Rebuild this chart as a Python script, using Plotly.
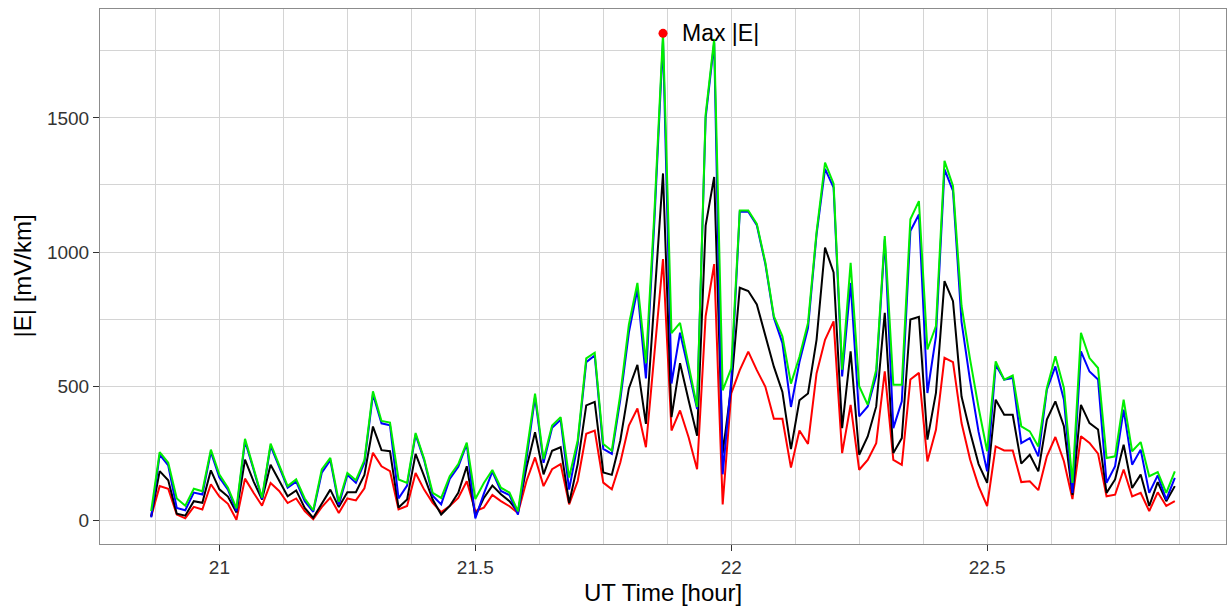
import plotly.graph_objects as go

# UT time in decimal hours, one sample per minute (20:52 - 22:52)
ut_hour = [
    20.8667, 20.8833, 20.9000, 20.9167, 20.9333, 20.9500, 20.9667, 20.9833,
    21.0000, 21.0167, 21.0333, 21.0500, 21.0667, 21.0833, 21.1000, 21.1167, 21.1333, 21.1500,
    21.1667, 21.1833, 21.2000, 21.2167, 21.2333, 21.2500, 21.2667, 21.2833, 21.3000, 21.3167,
    21.3333, 21.3500, 21.3667, 21.3833, 21.4000, 21.4167, 21.4333, 21.4500, 21.4667, 21.4833,
    21.5000, 21.5167, 21.5333, 21.5500, 21.5667, 21.5833, 21.6000, 21.6167, 21.6333, 21.6500,
    21.6667, 21.6833, 21.7000, 21.7167, 21.7333, 21.7500, 21.7667, 21.7833, 21.8000, 21.8167,
    21.8333, 21.8500, 21.8667, 21.8833, 21.9000, 21.9167, 21.9333, 21.9500, 21.9667, 21.9833,
    22.0000, 22.0167, 22.0333, 22.0500, 22.0667, 22.0833, 22.1000, 22.1167, 22.1333, 22.1500,
    22.1667, 22.1833, 22.2000, 22.2167, 22.2333, 22.2500, 22.2667, 22.2833, 22.3000, 22.3167,
    22.3333, 22.3500, 22.3667, 22.3833, 22.4000, 22.4167, 22.4333, 22.4500, 22.4667, 22.4833,
    22.5000, 22.5167, 22.5333, 22.5500, 22.5667, 22.5833, 22.6000, 22.6167, 22.6333, 22.6500,
    22.6667, 22.6833, 22.7000, 22.7167, 22.7333, 22.7500, 22.7667, 22.7833, 22.8000, 22.8167,
    22.8333, 22.8500, 22.8667,
]

# |E| in mV/km for the four estimates
e_green = [
    35, 255, 215, 82, 55, 118, 109, 264, 171, 122,
    45, 304, 195, 85, 286, 205, 128, 153, 82, 38,
    190, 233, 70, 177, 150, 225, 481, 371, 365, 153,
    140, 326, 230, 103, 84, 165, 210, 290, 80, 140,
    188, 122, 104, 34, 250, 473, 229, 354, 385, 160,
    298, 604, 625, 285, 260, 470, 730, 885, 586, 1150,
    1815, 698, 736, 580, 423, 1512, 1794, 485, 567, 1155,
    1155, 1105, 961, 761, 686, 510, 610, 736, 1074, 1333,
    1255, 562, 960, 500, 431, 562, 1060, 506, 506, 1122,
    1190, 637, 724, 1340, 1246, 800, 600, 420, 258, 593,
    525, 540, 351, 332, 276, 494, 612, 494, 140, 699, 605,
    568, 233, 239, 450, 258, 292, 165, 180, 103, 183,
]
e_blue = [
    12, 245, 205, 47, 38, 104, 97, 255, 160, 115,
    35, 295, 190, 80, 278, 198, 122, 145, 72, 32,
    178, 225, 58, 170, 140, 215, 470, 362, 355, 82,
    130, 320, 225, 92, 60, 155, 200, 285, 8, 100,
    182, 110, 95, 22, 230, 460, 215, 345, 375, 115,
    285, 590, 615, 267, 248, 450, 700, 861, 529, 1120,
    1790, 510, 700, 560, 415, 1500, 1780, 172, 520, 1150,
    1150, 1100, 955, 755, 661, 423, 590, 717, 1065, 1310,
    1240, 537, 885, 388, 425, 540, 1047, 344, 444, 1078,
    1140, 475, 686, 1308, 1228, 740, 520, 330, 183, 580,
    525, 531, 288, 307, 239, 487, 574, 450, 103, 630, 555,
    525, 140, 202, 413, 208, 264, 103, 168, 78, 159,
]
e_black = [
    15, 184, 150, 25, 18, 72, 66, 187, 116, 89,
    30, 227, 146, 78, 208, 146, 90, 112, 47, 10,
    65, 115, 50, 105, 105, 170, 350, 262, 258, 48,
    78, 248, 165, 78, 22, 54, 103, 202, 16, 84,
    130, 98, 72, 32, 197, 329, 172, 260, 273, 65,
    210, 429, 442, 179, 170, 298, 492, 580, 360, 820,
    1293, 385, 586, 448, 316, 1099, 1280, 250, 498, 867,
    855, 805, 692, 573, 479, 266, 448, 473, 673, 1017,
    924, 344, 630, 245, 313, 425, 774, 251, 307, 749,
    759, 301, 475, 892, 817, 462, 330, 210, 140, 450,
    394, 394, 212, 245, 183, 376, 444, 351, 95, 431, 363,
    339, 103, 153, 282, 121, 171, 54, 143, 72, 128,
]
e_red = [
    15, 128, 118, 22, 8, 51, 41, 135, 89, 62,
    3, 156, 103, 55, 140, 110, 65, 82, 35, 5,
    50, 85, 28, 82, 75, 120, 252, 202, 184, 41,
    54, 177, 115, 66, 31, 54, 84, 146, 35, 48,
    95, 72, 53, 28, 147, 235, 128, 191, 210, 60,
    147, 323, 335, 141, 116, 216, 354, 417, 273, 620,
    974, 335, 410, 310, 191, 761, 955, 60, 473, 560,
    629, 560, 498, 379, 379, 197, 335, 285, 548, 673,
    742, 251, 431, 189, 226, 288, 556, 226, 207, 525,
    550, 220, 338, 606, 590, 363, 227, 128, 54, 276,
    261, 261, 143, 146, 113, 239, 311, 221, 80, 314, 289,
    249, 90, 96, 190, 90, 103, 35, 105, 54, 72,
]

series = [
    (e_red, "#ff0000"),
    (e_black, "#000000"),
    (e_blue, "#0000ff"),
    (e_green, "#00ee00"),
]

FONT = "Liberation Sans, Arial, sans-serif"
GRID = "#d4d4d4"

fig = go.Figure()
for vals, col in series:
    fig.add_trace(go.Scatter(x=ut_hour, y=vals, mode="lines",
                             line=dict(color=col, width=2), showlegend=False,
                             hoverinfo="x+y"))

# highlight the overall maximum
imax = max(range(len(e_green)), key=lambda i: e_green[i])
fig.add_trace(go.Scatter(x=[ut_hour[imax]], y=[e_green[imax]], mode="markers",
                         marker=dict(color="#ff0000", size=9), showlegend=False))
fig.add_annotation(x=ut_hour[imax], y=e_green[imax], text="Max |E|",
                   showarrow=False, xanchor="left", yanchor="middle", xshift=17,
                   font=dict(family=FONT, size=23, color="#000000"))

# ggplot-style 5% expansion of the data range
all_vals = e_green + e_blue + e_black + e_red
lo, hi = min(all_vals), max(all_vals)
ypad = 0.05 * (hi - lo)
xpad = 0.05 * (ut_hour[-1] - ut_hour[0])

axis_common = dict(
    showline=True, linecolor="#8c8c8c", linewidth=1, mirror=True,
    ticks="outside", ticklen=6, tickcolor="#333333", tickwidth=1,
    showgrid=True, gridcolor=GRID, gridwidth=1, zeroline=False,
    tickfont=dict(family=FONT, size=19, color="#333333"),
)

fig.update_xaxes(range=[ut_hour[0] - xpad, ut_hour[-1] + xpad],
                 tick0=21, dtick=0.5,
                 minor=dict(tick0=21, dtick=0.125, showgrid=True, gridcolor=GRID,
                            gridwidth=1, ticks=""),
                 **axis_common)
fig.update_yaxes(range=[lo - ypad, hi + ypad], tick0=0, dtick=500,
                 minor=dict(tick0=0, dtick=250, showgrid=True, gridcolor=GRID,
                            gridwidth=1, ticks=""),
                 **axis_common)

fig.add_annotation(text="UT Time [hour]", xref="paper", yref="paper", x=0.5, y=0,
                   yanchor="middle", yshift=-48, showarrow=False,
                   font=dict(family=FONT, size=24, color="#000000"))
fig.add_annotation(text="|E| [mV/km]", xref="paper", yref="paper", x=0, y=0.5,
                   xanchor="center", xshift=-78, textangle=-90, showarrow=False,
                   font=dict(family=FONT, size=24, color="#000000"))

fig.update_layout(
    width=1227, height=610,
    margin=dict(l=100, r=1, t=9, b=66),
    paper_bgcolor="white", plot_bgcolor="white",
    showlegend=False,
)

fig.write_html("out.html")
